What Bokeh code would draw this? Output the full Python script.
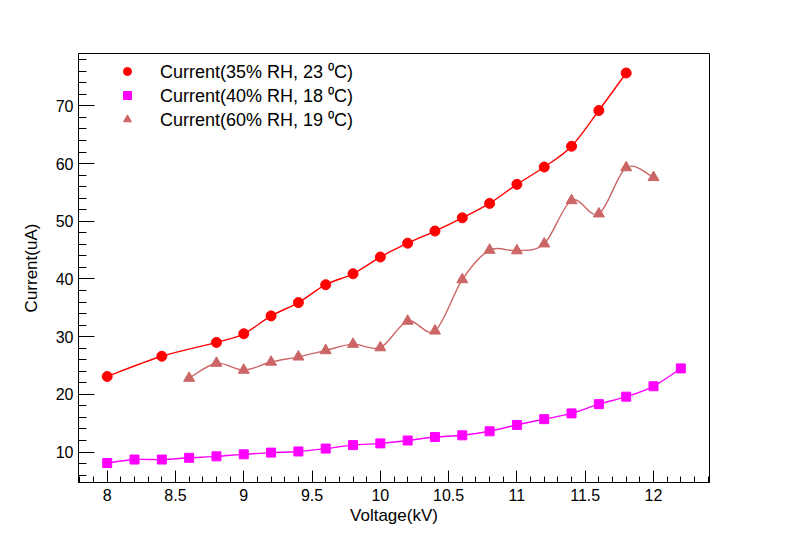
import numpy as np
from bokeh.plotting import figure
from bokeh.models import (FixedTicker, Legend, LegendItem, Range1d,
                          ColumnDataSource, NumeralTickFormatter)
from bokeh.embed import file_html
from bokeh.resources import INLINE

# ---------------- data ----------------
volt_35 = [8.0, 8.4, 8.8, 9.0, 9.2, 9.4, 9.6, 9.8, 10.0, 10.2, 10.4, 10.6,
           10.8, 11.0, 11.2, 11.4, 11.6, 11.8]
curr_35 = [23.1, 26.6, 29.0, 30.5, 33.6, 35.9, 39.0, 40.9, 43.8, 46.2, 48.3,
           50.6, 53.1, 56.4, 59.4, 63.0, 69.2, 75.7]

volt_40 = [8.0, 8.2, 8.4, 8.6, 8.8, 9.0, 9.2, 9.4, 9.6, 9.8, 10.0, 10.2, 10.4,
           10.6, 10.8, 11.0, 11.2, 11.4, 11.6, 11.8, 12.0, 12.2]
curr_40 = [8.1, 8.7, 8.7, 9.0, 9.25, 9.6, 9.9, 10.1, 10.6, 11.2, 11.5, 12.0,
           12.6, 12.9, 13.6, 14.7, 15.7, 16.7, 18.3, 19.6, 21.4, 24.5]

volt_60 = [8.6, 8.8, 9.0, 9.2, 9.4, 9.6, 9.8, 10.0, 10.2, 10.4, 10.6, 10.8,
           11.0, 11.2, 11.4, 11.6, 11.8, 12.0]
curr_60 = [22.8, 25.4, 24.2, 25.6, 26.5, 27.6, 28.7, 28.1, 32.7, 31.0, 39.9,
           45.0, 44.9, 46.1, 53.6, 51.3, 59.3, 57.6]

labels = ["Current(35% RH, 23 \u2070C)",
          "Current(40% RH, 18 \u2070C)",
          "Current(60% RH, 19 \u2070C)"]

x_ticks = [8, 8.5, 9, 9.5, 10, 10.5, 11, 11.5, 12]
y_ticks = [10, 20, 30, 40, 50, 60, 70]

# --------------- ranges (ROOT style 5% margins) -------------
all_x = volt_35 + volt_40 + volt_60
all_y = curr_35 + curr_40 + curr_60
xr = max(all_x) - min(all_x)
yr = max(all_y) - min(all_y)
x_range = Range1d(min(all_x) - 0.05 * xr, max(all_x) + 0.05 * xr)
y_range = Range1d(min(all_y) - 0.05 * yr, max(all_y) + 0.05 * yr)

FONT = "Liberation Sans"

p = figure(width=772, height=528, output_backend="svg", toolbar_location=None,
           x_range=x_range, y_range=y_range,
           min_border_left=78, min_border_right=63,
           min_border_top=53, min_border_bottom=46,
           x_axis_label="Voltage(kV)", y_axis_label="Current(uA)")
p.xgrid.visible = False
p.ygrid.visible = False
p.outline_line_color = "black"
p.outline_line_width = 1
p.background_fill_color = "white"
p.border_fill_color = "white"


def smooth_source(xs, ys):
    xs = np.asarray(xs, float)
    ys = np.asarray(ys, float)
    n = len(xs)
    d = dict(x0=[], y0=[], x1=[], y1=[], cx0=[], cy0=[], cx1=[], cy1=[])
    for i in range(n - 1):
        i0 = max(i - 1, 0)
        i3 = min(i + 2, n - 1)
        d["x0"].append(xs[i]); d["y0"].append(ys[i])
        d["x1"].append(xs[i + 1]); d["y1"].append(ys[i + 1])
        d["cx0"].append(xs[i] + (xs[i + 1] - xs[i0]) / 6.0)
        d["cy0"].append(ys[i] + (ys[i + 1] - ys[i0]) / 6.0)
        d["cx1"].append(xs[i + 1] - (xs[i3] - xs[i]) / 6.0)
        d["cy1"].append(ys[i + 1] - (ys[i3] - ys[i]) / 6.0)
    return ColumnDataSource(d)


series = [
    (volt_35, curr_35, "#ff0000", "circle", 10),
    (volt_40, curr_40, "#ff00ff", "square", 9),
    (volt_60, curr_60, "#cc6666", "triangle", 11),
]

items = []
for (xs, ys, col, mk, sz), lab in zip(series, labels):
    p.bezier(x0="x0", y0="y0", x1="x1", y1="y1", cx0="cx0", cy0="cy0",
             cx1="cx1", cy1="cy1", source=smooth_source(xs, ys),
             line_color=col, line_width=1.4)
    r = p.scatter(xs, ys, marker=mk, size=sz, fill_color=col, line_color=col)
    items.append(LegendItem(label=lab, renderers=[r]))

legend = Legend(items=items, location=(39, 351))
legend.border_line_color = None
legend.background_fill_alpha = 0
legend.label_text_font = FONT
legend.label_text_font_size = "18px"
legend.label_text_color = "black"
legend.glyph_width = 20
legend.glyph_height = 24
legend.label_height = 24
legend.spacing = 0
legend.padding = 0
legend.margin = 0
legend.label_standoff = 23
p.add_layout(legend)

p.xaxis.ticker = FixedTicker(ticks=x_ticks,
                             minor_ticks=list(np.round(np.arange(7.8, 12.45, 0.1), 2)))
p.yaxis.ticker = FixedTicker(ticks=y_ticks,
                             minor_ticks=list(range(6, 80, 2)))
p.xaxis.formatter = NumeralTickFormatter(format="0.[0]")

for ax in (p.xaxis[0], p.yaxis[0]):
    ax.axis_line_color = "black"
    ax.axis_line_width = 1
    ax.major_tick_line_color = "black"
    ax.minor_tick_line_color = "black"
    ax.major_tick_out = 0
    ax.minor_tick_out = 0
    ax.major_label_text_font = FONT
    ax.major_label_text_font_size = "16px"
    ax.major_label_text_color = "black"
    ax.axis_label_text_font = FONT
    ax.axis_label_text_font_size = "17px"
    ax.axis_label_text_font_style = "normal"
    ax.axis_label_text_color = "black"

p.xaxis.major_tick_in = 12
p.xaxis.minor_tick_in = 6
p.yaxis.major_tick_in = 16
p.yaxis.minor_tick_in = 8
p.xaxis.major_label_standoff = 6
p.yaxis.major_label_standoff = 5
p.xaxis.axis_label_standoff = 2
p.yaxis.axis_label_standoff = 12

open("out.html", "w").write(file_html(p, INLINE))
